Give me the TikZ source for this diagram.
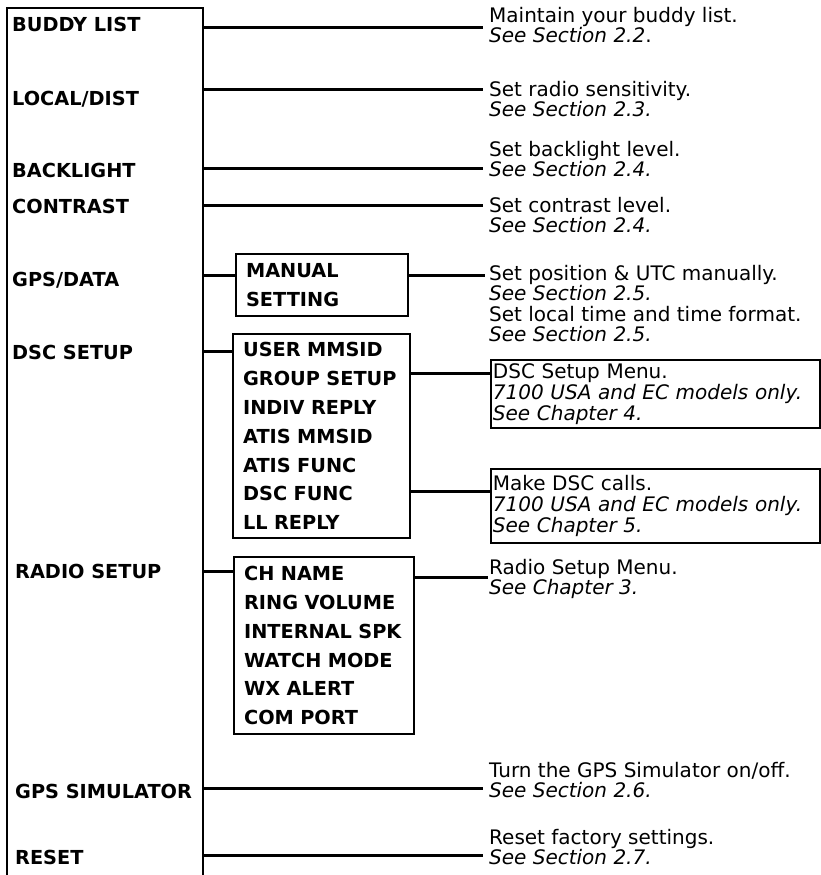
\documentclass[tikz,border=0pt]{standalone}
\usepackage{fontspec}
\setmainfont{DejaVu Sans}
\usepackage{tikz}
\usetikzlibrary{positioning, calc}

\begin{document}
\begin{tikzpicture}[x=1pt, y=-1pt,
    menuline/.style={line width=2pt},
    link/.style={line width=3pt},
    mainitem/.style={anchor=west, inner sep=0pt, text depth=0pt, font=\fontsize{19.3}{29}\selectfont\bfseries},
    subbox/.style={draw, line width=2.2pt, anchor=north west, align=left, inner xsep=10pt, inner ysep=0pt, font=\fontsize{19.3}{28.8}\selectfont\bfseries},
    note/.style={anchor=north west, align=left, inner xsep=6pt, inner ysep=0pt, font=\fontsize{20}{20.5}\selectfont},
    notebox/.style={draw, line width=1.8pt, anchor=north west, align=left, inner xsep=2pt, inner ysep=0pt, text width=325pt, font=\fontsize{20}{21}\selectfont}]

    \useasboundingbox (0,0) rectangle (820,875);

    % Main menu frame (open at the bottom)
    \draw[menuline] (7,875) |- (203,8) -- (203,875);

    % Main menu items
    \foreach \n/\x/\y/\t in {buddy/12/24.5/BUDDY LIST, local/12/98/{LOCAL/DIST}, back/12/170.5/BACKLIGHT,
                             contr/12/206/CONTRAST, gps/12/279.5/{GPS/DATA}, dsc/12/352.5/DSC SETUP,
                             radio/15/571/RADIO SETUP, sim/15/791/GPS SIMULATOR, reset/15/857/RESET}
        \node[mainitem] (\n) at (\x,\y) {\t};

    % Sub menus
    \node[subbox, text width=152pt, minimum height=62pt] (manual) at (235,253) {MANUAL\\SETTING};
    \node[subbox, text width=157pt, minimum height=204pt] (dscmenu) at (232,333)
        {USER MMSID\\GROUP SETUP\\INDIV REPLY\\ATIS MMSID\\ATIS FUNC\\DSC FUNC\\LL REPLY};
    \node[subbox, text width=160pt, minimum height=177pt] (radiomenu) at (233,556)
        {CH NAME\\RING VOLUME\\INTERNAL SPK\\WATCH MODE\\WX ALERT\\COM PORT};

    % Descriptions
    \node[note] (nbuddy) at (483,7) {Maintain your buddy list.\\\textit{See Section 2.2}.};
    \node[note] (nlocal) at (483,81) {Set radio sensitivity.\\\textit{See Section 2.3.}};
    \node[note] (nback) at (483,141) {Set backlight level.\\\textit{See Section 2.4.}};
    \node[note] (ncontr) at (483,197) {Set contrast level.\\\textit{See Section 2.4.}};
    \node[note] (ngps) at (483,265) {Set position \& UTC manually.\\\textit{See Section 2.5.}\\
        Set local time and time format.\\\textit{See Section 2.5.}};
    \node[notebox, minimum height=68pt] (ndsc) at (490,359)
        {DSC Setup Menu.\\\textit{7100 USA and EC models only.}\\\textit{See Chapter 4.}};
    \node[notebox, minimum height=74pt] (ncall) at (490,468)
        {Make DSC calls.\\\textit{7100 USA and EC models only.}\\\textit{See Chapter 5.}};
    \node[note] (nradio) at (483,559) {Radio Setup Menu.\\\textit{See Chapter 3.}};
    \node[note] (nsim) at (483,762) {Turn the GPS Simulator on/off.\\\textit{See Section 2.6.}};
    \node[note] (nreset) at (483,829) {Reset factory settings.\\\textit{See Section 2.7.}};

    % Connector heights on the main frame
    \foreach \n/\y in {buddy/28, local/89, back/168, contr/205, gps/275, dsc/351, radio/571, sim/788, reset/855}
        \coordinate (e\n) at (203,\y);
    \coordinate (edscnote) at (0,373);
    \coordinate (ecallnote) at (0,491);
    \coordinate (eradionote) at (0,577);

    % Connectors
    \draw[link] (ebuddy) -- (ebuddy -| nbuddy.west);
    \draw[link] (elocal) -- (elocal -| nlocal.west);
    \draw[link] (eback) -- (eback -| nback.west);
    \draw[link] (econtr) -- (econtr -| ncontr.west);
    \draw[link] (egps) -- (egps -| manual.west);
    \draw[link] (manual.east |- egps) -- ($(ngps.west |- egps)+(2,0)$);
    \draw[link] (edsc) -- (edsc -| dscmenu.west);
    \draw[link] (dscmenu.east |- edscnote) -- (ndsc.west |- edscnote);
    \draw[link] (dscmenu.east |- ecallnote) -- (ncall.west |- ecallnote);
    \draw[link] (eradio) -- (eradio -| radiomenu.west);
    \draw[link] (radiomenu.east |- eradionote) -- ($(nradio.west |- eradionote)+(5,0)$);
    \draw[link] (esim) -- (esim -| nsim.west);
    \draw[link] (ereset) -- (ereset -| nreset.west);

\end{tikzpicture}
\end{document}
